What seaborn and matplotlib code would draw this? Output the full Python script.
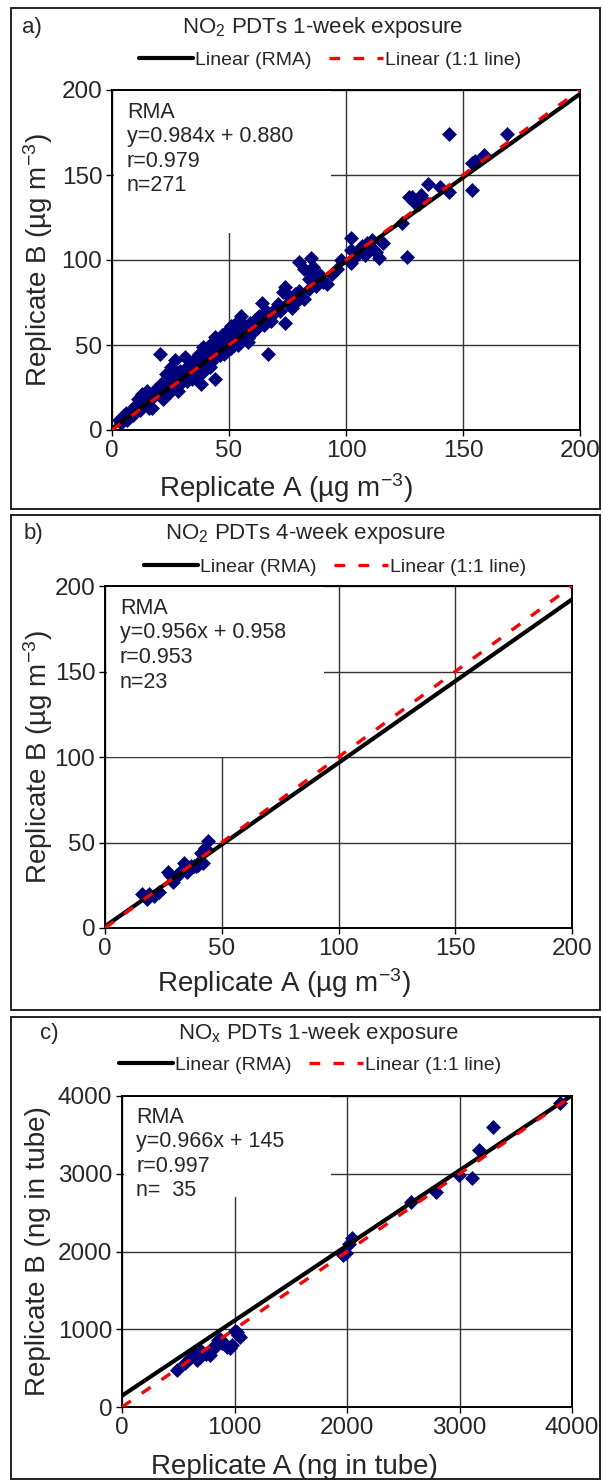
import numpy as np
import pandas as pd
import seaborn as sns
import matplotlib.pyplot as plt
from matplotlib.patches import Rectangle

# ---- data ----
# a) NO2 PDTs 1-week exposure (ug m-3)
a_rep_a = [3, 4, 5, 6, 6.5, 8, 9, 10, 11, 12, 13, 14, 15, 16, 17, 18, 19, 20, 20.5, 21, 22,
           23, 24, 25, 26, 27, 28, 28, 29, 30, 31, 32, 33, 34, 35, 35, 36, 37, 38, 38, 39, 40, 40,
           41, 42, 43, 43, 44, 44, 45, 46, 47, 47, 48, 49, 50, 51, 51, 52, 53, 54, 55, 55, 56, 57, 58, 59, 60,
           61, 62, 63, 64, 65, 66, 66.7, 67, 68, 70, 72, 73, 74, 74, 75, 76, 77, 78, 79, 80, 80,
           82, 82, 84, 85, 86, 86, 87, 88, 89, 90, 92, 94, 96, 98,
           102, 102, 102, 104, 105, 107, 108, 109, 111, 111, 113, 114, 116, 124, 126, 127, 128, 129, 130, 131, 132, 133,
           135, 140, 144, 144, 154, 155, 154, 159, 169,
           33, 36, 41, 45, 48, 52, 56, 58, 62, 64, 46, 50, 53, 37, 42, 30, 26, 24,
           7, 10, 12, 15, 18, 21, 25, 27, 29, 31, 34, 39, 43, 49, 54, 57, 60, 69, 71, 78, 84]
a_rep_b = [6, 4, 8, 10, 6, 11, 9, 14, 18, 12, 21, 16, 23, 13, 13, 20, 24, 22, 45, 27, 18,
           33, 25, 37, 29, 41, 31, 23, 35, 28, 43, 29, 37, 30, 41, 33, 38, 45, 27, 42, 49, 36, 44,
           49, 37, 41, 52, 55, 30, 47, 50, 56, 53, 45, 58, 52, 48, 61, 55, 63, 50, 67, 58, 55, 61, 52, 63, 57,
           65, 60, 67, 75, 62, 70, 45, 67, 64, 72, 70, 81, 84, 63, 75, 78, 72, 80, 76, 99, 82,
           95, 77, 89, 101, 96, 92, 85, 89, 91, 87, 86, 92, 95, 100,
           113, 106, 98, 102, 105, 108, 103, 110, 112, 107, 105, 101, 110, 122, 102, 137, 137, 134, 135, 133, 138, 136,
           145, 143, 140, 174, 157, 158, 141, 162, 174,
           34, 36, 43, 46, 49, 50, 58, 54, 60, 66, 44, 48, 56, 32, 40, 32, 27, 21,
           8, 12, 15, 17, 22, 25, 28, 33, 32, 36, 35, 42, 46, 51, 53, 56, 62, 68, 74, 79, 83]
a_fit = (0.984, 0.880)
a_stats = ["RMA", "y=0.984x + 0.880", "r=0.979", "n=271"]

# b) NO2 PDTs 4-week exposure (ug m-3)
b_rep_a = [16, 18, 19, 21, 23, 27, 28, 29, 30, 31, 32, 33, 34, 35, 38, 39, 40, 41, 42, 43, 44, 40, 37]
b_rep_b = [20, 17, 20, 19, 21, 33, 31, 27, 29, 31, 32, 34, 38, 33, 36, 36, 38, 44, 38, 47, 51, 37, 36]
b_fit = (0.956, 0.958)
b_stats = ["RMA", "y=0.956x + 0.958", "r=0.953", "n=23"]

# c) NOx PDTs 1-week exposure (ng in tube)
c_rep_a = [489, 560, 604, 640, 650, 667, 693, 700, 720, 750, 782, 800, 827, 853, 870, 889, 900,
           933, 960, 980, 1000, 1022, 1030, 1049,
           1964, 1990, 2020, 2044, 2569, 2791, 2996, 3111, 3173, 3298, 3893]
c_rep_b = [476, 560, 630, 660, 690, 604, 643, 720, 700, 680, 669, 760, 772, 862, 880, 823, 830,
           772, 759, 800, 980, 965, 930, 900,
           1960, 1981, 2100, 2174, 2637, 2765, 2984, 2945, 3305, 3601, 3910]
c_fit = (0.966, 145)
c_stats = ["RMA", "y=0.966x + 145", "r=0.997", "n=  35"]

panels = [
    dict(tag="a)", title="NO$_2$ PDTs 1-week exposure", x=a_rep_a, y=a_rep_b, fit=a_fit, stats=a_stats,
         lim=200, ticks=[0, 50, 100, 150, 200],
         xlabel="Replicate A (µg m$^{-3}$)", ylabel="Replicate B (µg m$^{-3}$)",
         box=(8, 509), axpos=(112, 90, 580, 430), tag_x=22, title_x=323, title_y=28,
         leg_x=330, leg_y=60, xlab=(286, 488), ylab_x=38, mask=(0.465, 0.58)),
    dict(tag="b)", title="NO$_2$ PDTs 4-week exposure", x=b_rep_a, y=b_rep_b, fit=b_fit, stats=b_stats,
         lim=200, ticks=[0, 50, 100, 150, 200],
         xlabel="Replicate A (µg m$^{-3}$)", ylabel="Replicate B (µg m$^{-3}$)",
         box=(515, 1010), axpos=(105, 586, 572, 928), tag_x=24, title_x=306, title_y=533,
         leg_x=335, leg_y=567, xlab=(284, 983), ylab_x=38, mask=(0.465, 0.5)),
    dict(tag="c)", title="NO$_\\mathrm{x}$ PDTs 1-week exposure", x=c_rep_a, y=c_rep_b, fit=c_fit,
         stats=c_stats, lim=4000, ticks=[0, 1000, 2000, 3000, 4000],
         xlabel="Replicate A (ng in tube)", ylabel="Replicate B (ng in tube)",
         box=(1017, 1479), axpos=(122, 1096, 572, 1407), tag_x=40, title_x=318, title_y=1033,
         leg_x=310, leg_y=1065, xlab=(294, 1467), ylab_x=38, mask=(0.46, 0.675)),
]

sns.set_theme(style="white")
plt.rcParams['font.family'] = ['Liberation Sans', 'DejaVu Sans']
plt.rcParams['mathtext.fontset'] = 'custom'
plt.rcParams['mathtext.rm'] = 'Liberation Sans'
plt.rcParams['mathtext.it'] = 'Liberation Sans:italic'

W, H = 603, 1482
fig = plt.figure(figsize=(W / 100, H / 100), dpi=100)

for p in panels:
    # outer frame of each panel
    top, bot = p["box"]
    fig.add_artist(Rectangle((11 / W, 1 - bot / H), (600 - 11) / W, (bot - top) / H,
                             transform=fig.transFigure, fill=False, ec='#222222', lw=1.4))

    x0, y0, x1, y1 = p["axpos"]
    aw, ah = x1 - x0, y1 - y0
    ax = fig.add_axes([x0 / W, 1 - y1 / H, aw / W, ah / H])

    df = pd.DataFrame({"A": p["x"], "B": p["y"]})
    sns.scatterplot(data=df, x="A", y="B", marker="D", s=58, color="#00007f",
                    edgecolor="#00007f", linewidth=0, ax=ax, zorder=3)

    lim = p["lim"]
    slope, icpt = p["fit"]
    xs = np.array([0, lim])
    sns.lineplot(x=xs, y=slope * xs + icpt, color="black", lw=3.0, ax=ax,
                 label="Linear (RMA)", zorder=4)
    sns.lineplot(x=xs, y=xs, color="#ff0000", lw=2.4, ax=ax, label="Linear (1:1 line)",
                 zorder=5)
    ax.lines[-1].set_dashes((3.2, 4.0))

    ax.set_xlim(0, lim)
    ax.set_ylim(0, lim)
    ax.set_xticks(p["ticks"])
    ax.set_yticks(p["ticks"])
    ax.grid(True, color="#333333", lw=1.0)
    ax.set_axisbelow(True)
    for s in ax.spines.values():
        s.set_color("black")
        s.set_linewidth(1.4)
    ax.tick_params(direction="out", length=4, width=1.0, color="black",
                   labelsize=17.5, pad=3, bottom=True, left=True)

    # white box behind the statistics text (hides the grid there)
    mx, my = p["mask"]
    ax.add_patch(Rectangle((0.004, my), mx, 1 - my - 0.004, transform=ax.transAxes,
                           facecolor="white", edgecolor="none", zorder=1))
    ax.text(0.032, 0.965, "\n".join(p["stats"]), transform=ax.transAxes, va="top", ha="left",
            fontsize=15.5, linespacing=1.22, zorder=6)

    ax.set_xlabel(p["xlabel"], fontsize=20)
    ax.set_ylabel(p["ylabel"], fontsize=20)
    lx, ly = p["xlab"]
    ax.xaxis.set_label_coords((lx - x0) / aw, -(ly - y1) / ah)
    ax.xaxis.label.set_va("center")
    ax.yaxis.set_label_coords((p["ylab_x"] - x0) / aw, 0.5)
    ax.yaxis.label.set_va("center")

    fig.text(p["tag_x"] / W, 1 - p["title_y"] / H, p["tag"], fontsize=16, ha="left", va="center")
    fig.text(p["title_x"] / W, 1 - p["title_y"] / H, p["title"], fontsize=16, ha="center", va="center")

    ax.legend(loc="center", bbox_to_anchor=(p["leg_x"] / W, 1 - p["leg_y"] / H),
              bbox_transform=fig.transFigure, ncol=2, frameon=False, fontsize=14,
              handlelength=2.8, handletextpad=0.1, columnspacing=0.9, borderpad=0)

fig.savefig("out.png", dpi=100)
